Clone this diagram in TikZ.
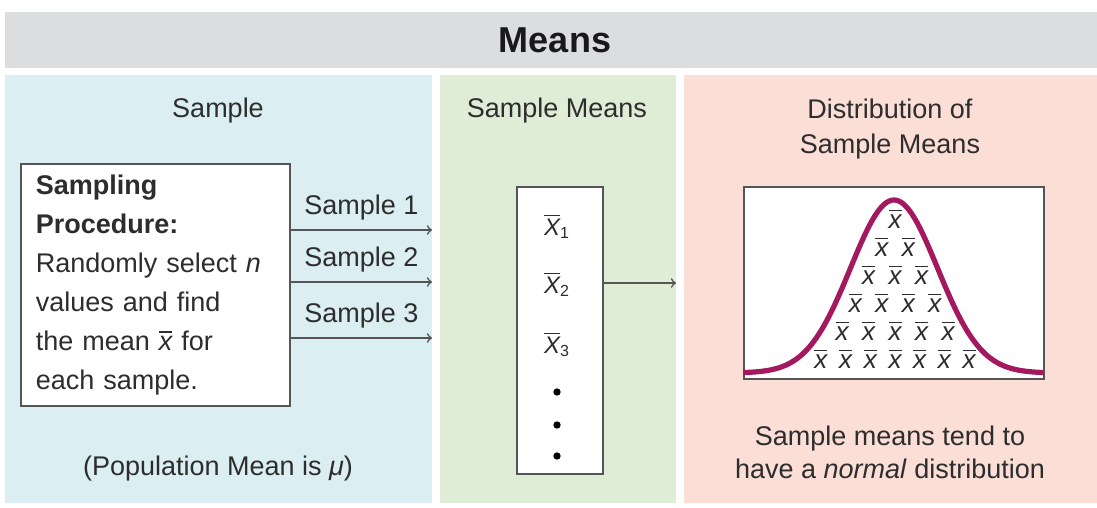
\documentclass[tikz,border=0pt]{standalone}
\usepackage{amsmath}
\usepackage{fontspec}
\setmainfont{Liberation Sans}
\usepackage{tikz}

\definecolor{hdrgray}{RGB}{220,221,223}
\definecolor{smpblue}{RGB}{219,238,241}
\definecolor{meangreen}{RGB}{223,237,215}
\definecolor{distpink}{RGB}{251,222,214}
\definecolor{txtgray}{RGB}{45,45,45}
\definecolor{linegray}{RGB}{85,85,85}
\definecolor{curvemag}{RGB}{163,24,94}

\newcommand{\smean}{\ensuremath{\overline{\textit{x}}}}
\newcommand{\Smean}[1]{\ensuremath{\overline{\textit{X}}_{\textrm{#1}}}}

\begin{document}
\begin{tikzpicture}[x=0.5pt,y=-0.5pt,text=txtgray,font=\fontsize{13.5}{19.5}\selectfont]
    \tikzstyle{card}=[draw=linegray, fill=white, line width=0.8pt, inner sep=0pt]
    \tikzstyle{flow}=[->, draw=linegray, line width=0.8pt]
    \tikzstyle{heading}=[align=center, font=\fontsize{13.5}{17.5}\selectfont]
    \tikzstyle{xbar}=[anchor=base, inner sep=0pt, font=\fontsize{13}{13}\selectfont]
    \tikzstyle{dot}=[circle, fill=black, inner sep=1.3pt]

    \useasboundingbox (0,0) rectangle (1097,508);
    \fill[white] (0,0) rectangle (1097,508);
    % Draw the header band and the three panels
    \fill[hdrgray] (5,12) rectangle (1097,68);
    \fill[smpblue] (5,75) rectangle (432,503);
    \fill[meangreen] (440,75) rectangle (676,503);
    \fill[distpink] (684,75) rectangle (1097,503);
    \node[text=black!90, font=\bfseries\fontsize{18}{20}\selectfont] (title) at (555,40) {Means};

    % Panel headings
    \node[heading] (h-sample) at (218,111) {Sample};
    \node[heading] (h-means) at (557,111) {Sample Means};
    \node[heading] (h-dist) at (890,129) {Distribution of\\Sample Means};

    % Sampling procedure and the three samples
    \node[card, anchor=north west, text width=119.5pt, inner xsep=7.5pt, minimum height=121pt, align=left] (proc) at (20,163)
        {\textbf{Sampling}\\\textbf{Procedure:}\\Randomly select \textit{n}\\values and find\\the mean \smean{} for\\each sample.};
    \coordinate (s-1) at (432,230);
    \coordinate (s-2) at (432,282);
    \coordinate (s-3) at (432,338);
    \foreach \i in {1,2,3}
        \draw[flow] (proc.east |- s-\i) -- node[above=1pt] (lab-\i) {Sample \i} (s-\i);
    \node (pop) at (218,469) {(Population Mean is \textit{μ})};

    % Column of sample means
    \node[card, anchor=north west, minimum width=43pt, minimum height=143.5pt] (means) at (516,186) {};
    \node[anchor=base, font=\fontsize{12}{12}\selectfont] (m-1) at (557,235) {\Smean{1}};
    \node[anchor=base, font=\fontsize{12}{12}\selectfont] (m-2) at (557,293) {\Smean{2}};
    \node[anchor=base, font=\fontsize{12}{12}\selectfont] (m-3) at (557,353) {\Smean{3}};
    \node[dot] (d-1) at (557,392) {};
    \node[dot] (d-2) at (557,425) {};
    \node[dot] (d-3) at (557,456) {};
    \coordinate (dist) at (676,283);
    \draw[flow] (means.east |- dist) -- (dist);

    % Normal curve of the sample means
    \node[card, anchor=north west, minimum width=150pt, minimum height=96pt] (graph) at (743,186) {};
    \begin{scope}
        \clip (graph.south west) rectangle (graph.north east);
        \draw[curvemag, line width=2.6pt, domain=743:1043, samples=120, smooth]
            plot (\x, {373-173*exp(-0.5*((\x-894)/43.5)^2)});
    \end{scope}
    % rows of x-bars under the curve
    \foreach \r/\n/\dx in {1/1/26.5, 2/2/26.5, 3/3/26.5, 4/4/26.5, 5/5/26.5, 6/7/24.7}
        \foreach \c in {1,...,\n}
            \node[xbar] (x-\r-\c) at ({895+(\c-(\n+1)/2)*\dx}, {228+(\r-1)*28}) {\smean};
    \node[align=center, font=\fontsize{13.5}{16.5}\selectfont] (tend) at (890,452)
        {Sample means tend to\\have a \textit{normal} distribution};
\end{tikzpicture}
\end{document}
